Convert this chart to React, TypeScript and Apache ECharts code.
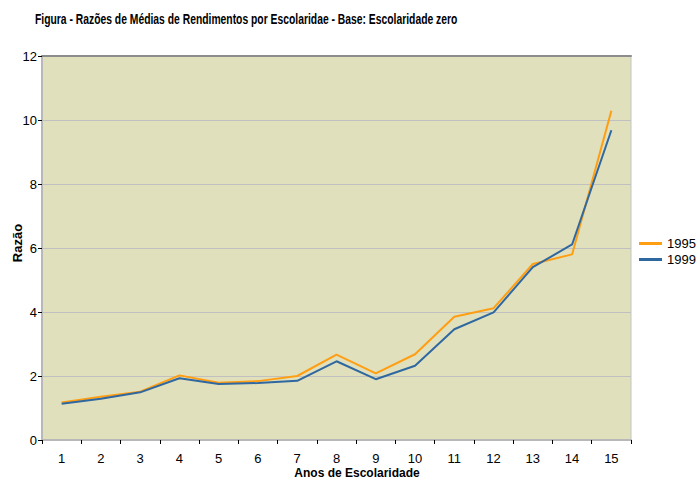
import React, { useEffect, useRef } from "react";
import * as echarts from "echarts";

const categories = ["1", "2", "3", "4", "5", "6", "7", "8", "9", "10", "11", "12", "13", "14", "15"];
const values1995 = [1.17, 1.35, 1.51, 2.02, 1.79, 1.84, 2.0, 2.67, 2.08, 2.68, 3.85, 4.12, 5.5, 5.8, 10.29];
const values1999 = [1.13, 1.29, 1.49, 1.93, 1.75, 1.78, 1.85, 2.46, 1.9, 2.32, 3.46, 3.99, 5.4, 6.11, 9.68];
const titleText = "Figura - Razões de Médias de Rendimentos por Escolaridae - Base: Escolaridade zero";

export default function App() {
  const ref = useRef<HTMLDivElement>(null);
  useEffect(() => {
    if (!ref.current) return;
    const chart = echarts.init(ref.current, null, { renderer: "svg" });
    const font = "'Liberation Sans', Arial, sans-serif";
    chart.setOption({
      animation: false,
      backgroundColor: "#ffffff",
      legend: {
        orient: "vertical",
        left: 639,
        top: 237,
        padding: 0,
        itemWidth: 23,
        itemHeight: 3,
        itemGap: 3,
        icon: "rect",
        textStyle: { fontFamily: font, fontSize: 13, color: "#000" },
        data: ["1995", "1999"],
      },
      grid: {
        left: 42,
        top: 56,
        right: 65,
        bottom: 39,
        show: true,
        backgroundColor: "#e0e0bd",
        borderColor: "#c4c4c4",
        borderWidth: 1,
      },
      xAxis: [
        {
          type: "category",
          data: categories,
          boundaryGap: true,
          axisLine: { lineStyle: { color: "#b8b8b8", width: 2 } },
          axisTick: { show: true, length: 4, inside: false, lineStyle: { color: "#000" } },
          axisLabel: { fontFamily: font, fontSize: 13, color: "#000", margin: 12 },
          splitLine: { show: false },
        },
        {
          type: "category",
          data: categories,
          position: "top",
          boundaryGap: true,
          axisLine: { lineStyle: { color: "#8c8c8c", width: 2 } },
          axisTick: { show: false },
          axisLabel: { show: false },
        },
      ],
      yAxis: {
        type: "value",
        min: 0,
        max: 12,
        interval: 2,
        axisLine: { show: true, lineStyle: { color: "#b8b8b8", width: 2 } },
        axisTick: { show: true, length: 4, lineStyle: { color: "#000" } },
        axisLabel: { fontFamily: font, fontSize: 13, color: "#000", margin: 5 },
        splitLine: { show: true, lineStyle: { color: "#c0c0c0", width: 1 } },
      },
      graphic: [
        {
          type: "text",
          x: 35,
          y: 19,
          scaleX: 0.69,
          style: {
            text: titleText,
            fontFamily: font,
            fontWeight: "bold",
            fontSize: 15,
            fill: "#000",
            align: "left",
            verticalAlign: "middle",
          },
        },
        {
          type: "text",
          rotation: Math.PI / 2,
          style: { text: "Razão", fontFamily: font, fontWeight: "bold", fontSize: 13, fill: "#000", align: "center", verticalAlign: "middle" },
          x: 17,
          y: 243,
        },
        {
          type: "text",
          x: 357,
          y: 472.5,
          style: { text: "Anos de Escolaridade", fontFamily: font, fontWeight: "bold", fontSize: 12, fill: "#000", align: "center", verticalAlign: "middle" },
        },
      ],
      series: [
        {
          name: "1995",
          type: "line",
          data: values1995,
          symbol: "none",
          color: "#ff9e12",
          lineStyle: { width: 2, color: "#ff9e12" },
        },
        {
          name: "1999",
          type: "line",
          data: values1999,
          symbol: "none",
          color: "#2f67a0",
          lineStyle: { width: 2, color: "#2f67a0" },
        },
      ],
    });
    return () => chart.dispose();
  }, []);
  return <div ref={ref} style={{ width: 696, height: 479, position: "absolute", left: 0, top: 0 }} />;
}
